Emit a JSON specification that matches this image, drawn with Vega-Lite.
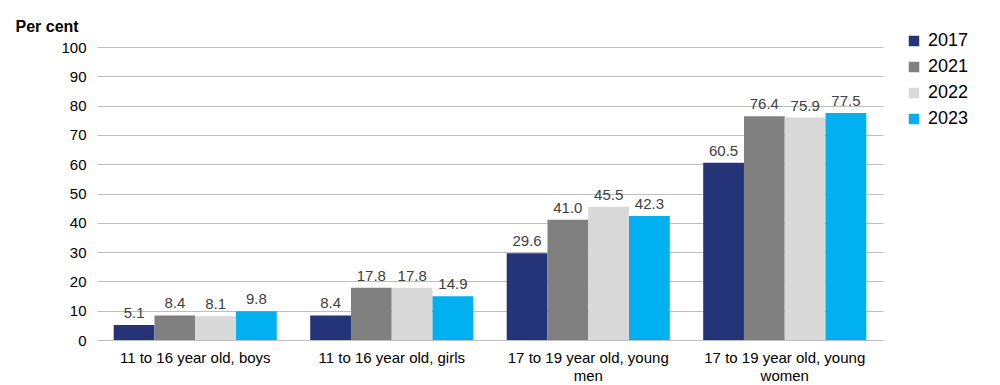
{
  "$schema": "https://vega.github.io/schema/vega-lite/v6.json",
  "width": 786,
  "height": 293,
  "autosize": "none",
  "padding": {"left": 97, "top": 47, "right": 117, "bottom": 45},
  "background": "white",
  "config": {
    "font": "Liberation Sans",
    "view": {"stroke": null}
  },
  "data": {
    "values": [
      {"group": "11 to 16 year old, boys", "year": "2017", "value": 5.1},
      {"group": "11 to 16 year old, boys", "year": "2021", "value": 8.4},
      {"group": "11 to 16 year old, boys", "year": "2022", "value": 8.1},
      {"group": "11 to 16 year old, boys", "year": "2023", "value": 9.8},
      {"group": "11 to 16 year old, girls", "year": "2017", "value": 8.4},
      {"group": "11 to 16 year old, girls", "year": "2021", "value": 17.8},
      {"group": "11 to 16 year old, girls", "year": "2022", "value": 17.8},
      {"group": "11 to 16 year old, girls", "year": "2023", "value": 14.9},
      {"group": "17 to 19 year old, young men", "year": "2017", "value": 29.6},
      {"group": "17 to 19 year old, young men", "year": "2021", "value": 41.0},
      {"group": "17 to 19 year old, young men", "year": "2022", "value": 45.5},
      {"group": "17 to 19 year old, young men", "year": "2023", "value": 42.3},
      {"group": "17 to 19 year old, young women", "year": "2017", "value": 60.5},
      {"group": "17 to 19 year old, young women", "year": "2021", "value": 76.4},
      {"group": "17 to 19 year old, young women", "year": "2022", "value": 75.9},
      {"group": "17 to 19 year old, young women", "year": "2023", "value": 77.5}
    ]
  },
  "encoding": {
    "x": {
      "field": "group",
      "type": "nominal",
      "sort": null,
      "scale": {"paddingInner": 0.17, "paddingOuter": 0.085},
      "axis": {
        "title": null,
        "labelAngle": 0,
        "labelFontSize": 15,
        "labelColor": "#000000",
        "labelPadding": 10,
        "labelLineHeight": 18,
        "labelLimit": 300,
        "ticks": false,
        "domain": false,
        "labelExpr": "length(datum.label) > 25 ? [substring(datum.label, 0, lastindexof(datum.label, ' ')), substring(datum.label, lastindexof(datum.label, ' ') + 1)] : datum.label"
      }
    },
    "xOffset": {"field": "year", "type": "nominal", "scale": {"paddingInner": 0, "paddingOuter": 0}},
    "y": {
      "field": "value",
      "type": "quantitative",
      "scale": {"domain": [0, 100], "nice": false},
      "axis": {
        "values": [0, 10, 20, 30, 40, 50, 60, 70, 80, 90, 100],
        "title": "Per cent",
        "titleAngle": 0,
        "titleAlign": "left",
        "titleBaseline": "alphabetic",
        "titleX": -82,
        "titleY": -16,
        "titleFontSize": 16,
        "titleFontWeight": "bold",
        "titleColor": "#000000",
        "labelFontSize": 15,
        "labelColor": "#000000",
        "labelPadding": 11,
        "ticks": false,
        "domain": false,
        "gridColor": "#bfbfbf",
        "gridWidth": 1
      }
    }
  },
  "layer": [
    {
      "mark": {"type": "bar"},
      "encoding": {
        "color": {
          "field": "year",
          "type": "nominal",
          "scale": {"domain": ["2017", "2021", "2022", "2023"], "range": ["#253478", "#808080", "#d9d9d9", "#00b0f0"]},
          "legend": {
            "title": null,
            "orient": "none",
            "legendX": 808,
            "legendY": -15,
            "symbolType": "square",
            "symbolSize": 110,
            "symbolStrokeWidth": 0,
            "labelFontSize": 18,
            "labelColor": "#000000",
            "labelOffset": 5,
            "rowPadding": 8
          }
        }
      }
    },
    {
      "mark": {"type": "text", "baseline": "alphabetic", "dy": -7, "fontSize": 15, "color": "#404040"},
      "encoding": {
        "text": {"field": "value", "type": "quantitative", "format": ".1f"}
      }
    }
  ]
}
